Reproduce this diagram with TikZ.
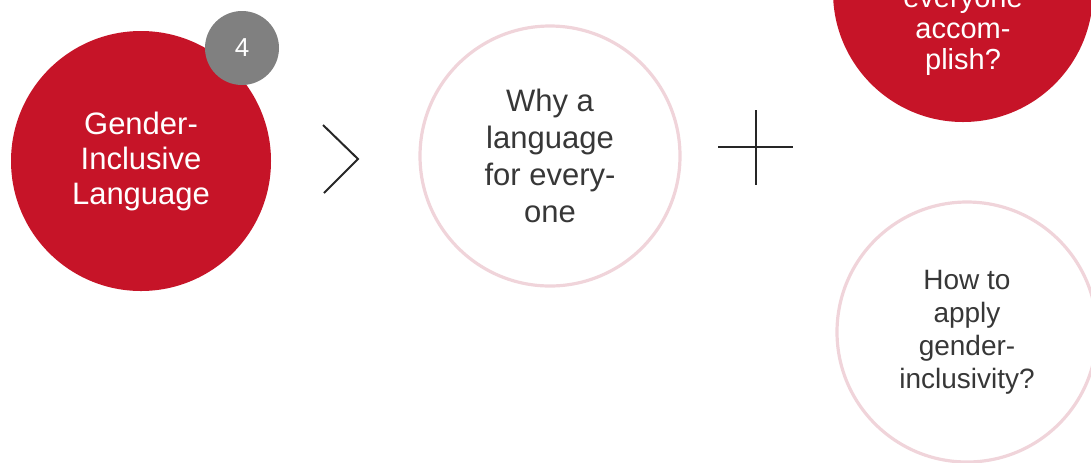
\documentclass[tikz,border=0pt]{standalone}
\usepackage{fontspec}
\setmainfont{Liberation Sans}
\usetikzlibrary{positioning}
\definecolor{topicred}{RGB}{198,20,40}
\definecolor{badgegray}{RGB}{128,128,128}
\definecolor{ringpink}{RGB}{240,212,218}
\definecolor{textgray}{RGB}{55,55,55}

\begin{document}
\begin{tikzpicture}[x=0.5pt, y=-0.5pt,
    bubble/.style={circle, minimum size=130pt, inner sep=0pt, align=center},
    redbubble/.style={bubble, fill=topicred, text=white},
    ringbubble/.style={bubble, draw=ringpink, line width=1.6pt, text=textgray},
    sign/.style={draw=black!85, line width=1pt}]
  \useasboundingbox (0,0) rectangle (1091,462);
  \clip (0,0) rectangle (1091,462);

  % topic
  \node[redbubble, font=\fontsize{15.5}{17.5}\selectfont] (topic) at (141,161)
    {Gender-\\Inclusive\\Language};
  \node[circle, fill=badgegray, minimum size=37pt, inner sep=0pt, text=white,
    font=\fontsize{13}{14}\selectfont] (number) at (242,48) {4};

  % chevron
  \coordinate (chevtop) at (323,125);
  \coordinate (chevtip) at (358,159);
  \coordinate (chevbot) at (324,193);
  \draw[sign] (chevtop) -- (chevtip) -- (chevbot);

  \node[ringbubble, font=\fontsize{15.5}{18.5}\selectfont] (why) at (550,156)
    {Why a\\language\\for every-\\one};

  % plus
  \coordinate (plusleft) at (718,147);
  \coordinate (plusright) at (793,147);
  \coordinate (plustop) at (756,110);
  \coordinate (plusbot) at (756,185);
  \draw[sign] (plusleft) -- (plusright) (plustop) -- (plusbot);

  \node[redbubble] (what) at (963,-8) {};
  \node[anchor=south, inner sep=0pt, align=center, text=white,
    font=\fontsize{14.5}{15.5}\selectfont] (whattext) at (963,76)
    {everyone\\accom-\\plish?};

  \node[ringbubble, font=\fontsize{14}{16.5}\selectfont] (how) at (967,332)
    {How to\\apply\\gender-\\inclusivity?};
\end{tikzpicture}
\end{document}
